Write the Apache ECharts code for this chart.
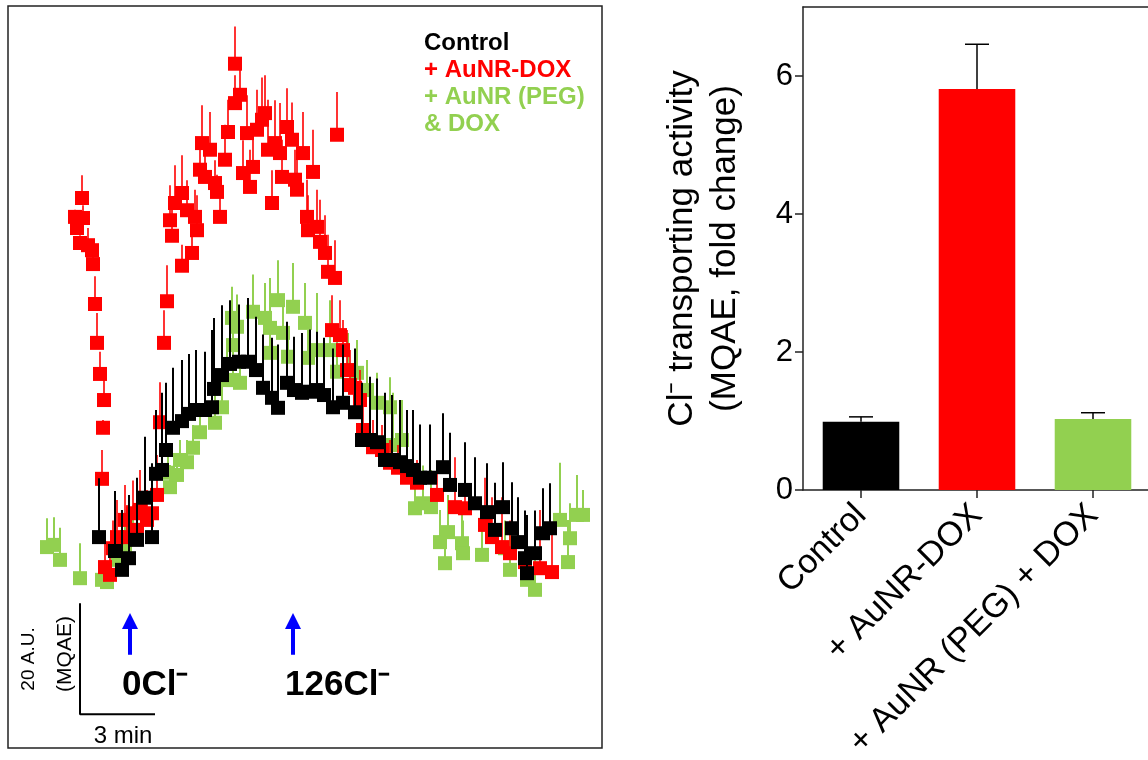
<!DOCTYPE html>
<html><head><meta charset="utf-8">
<script src="https://cdn.jsdelivr.net/npm/echarts@6/dist/echarts.min.js"></script>
<style>html,body{margin:0;padding:0;background:#fff}#c{width:1148px;height:760px}</style>
</head><body><div id="c"></div>
<script>
// Left panel: MQAE trace, [time (min), fluorescence (A.U.), upper error (A.U.)]
const controlData = [
[3.64,38.0,10.6],[4.28,35.5,10.8],[4.56,32.1,10.8],[4.84,34.2,11.4],[5.16,37.5,11.2],[5.48,45.1,11.0],
[5.76,38.0,13.3],[5.92,49.4,11.5],[6.16,50.1,13.9],[6.32,53.7,12.1],[6.60,57.7,10.8],[6.96,58.9,11.0],
[7.24,60.2,10.8],[7.52,60.9,10.8],[7.88,60.9,10.5],[8.16,61.4,13.9],[8.24,64.7,12.8],[8.56,67.2,12.6],
[8.88,69.2,11.5],[9.24,69.6,10.3],[9.60,69.6,11.5],[9.92,68.1,9.6],[10.20,64.9,9.6],[10.56,63.1,10.8],
[10.80,61.3,11.4],[11.16,65.8,11.0],[11.44,64.5,9.6],[11.76,64.0,10.8],[12.08,64.2,11.2],[12.36,64.5,10.5],
[12.64,63.6,10.3],[13.00,61.4,10.6],[13.40,62.2,10.5],[13.88,60.5,11.5],[14.16,55.5,10.3],[14.48,55.5,11.4],
[14.76,55.1,11.5],[15.08,51.9,12.1],[15.36,51.9,11.7],[15.68,51.5,11.2],[15.96,50.8,10.1],[16.20,50.1,10.8],
[16.48,48.7,9.6],[16.88,48.7,9.6],[17.40,50.6,9.7],[17.68,47.4,9.4],[18.28,46.5,8.6],[18.68,44.1,8.3],
[19.16,42.5,8.8],[19.48,39.3,8.5],[19.80,43.4,8.1],[20.16,39.6,8.3],[20.40,37.1,8.1],[20.68,34.2,8.6],
[20.76,31.5,10.5],[21.08,35.1,7.7],[21.40,38.7,8.1],[21.68,39.6,8.1]
];
const aunrDoxData = [
[2.68,95.7,1.3],[2.76,93.7,1.4],[2.96,99.1,4.1],[3.00,95.5,2.3],[2.88,91.0,1.4],[3.20,90.6,3.1],
[3.36,89.7,1.8],[3.40,87.2,1.6],[3.48,80.0,5.0],[3.56,73.0,5.4],[3.68,67.4,4.0],[3.84,62.7,3.6],
[3.80,57.7,1.4],[3.76,48.5,5.2],
[3.88,32.6,4.9],[4.08,31.2,3.6],[4.20,36.0,5.0],[4.36,38.0,6.7],[4.68,41.1,6.3],[4.76,38.0,5.8],
[5.00,42.3,5.9],[5.16,39.3,6.3],[5.28,42.9,7.2],[5.56,41.1,5.4],[5.76,42.3,7.7],[5.96,45.6,7.2],
[6.08,58.7,7.2],[6.24,73.0,5.9],[6.36,80.5,6.5],[6.48,95.1,6.3],[6.56,92.3,6.5],[6.68,98.2,6.8],
[6.96,86.9,3.8],[6.96,100.0,6.8],[7.16,96.9,5.4],[7.36,89.2,5.0],[7.48,95.7,4.9],[7.56,93.3,6.3],
[7.76,109.0,6.8],[8.08,107.8,6.8],[7.68,104.2,5.0],[7.88,102.9,4.9],[8.28,101.8,4.1],[8.36,100.2,3.1],
[8.48,95.7,6.7],[8.68,106.0,6.3],[8.80,111.0,5.8],[9.08,116.2,5.0],[9.28,117.7,6.3],[9.08,123.3,6.7],
[9.40,103.6,5.9],[9.56,110.8,6.8],[9.68,101.1,6.7],[9.80,104.7,7.6],[9.96,111.4,7.2],[10.16,113.2,7.6],
[10.28,114.4,6.8],[10.40,107.8,9.0],[10.56,98.2,5.9],[10.68,109.0,7.7],[10.88,107.2,9.0],[10.96,102.9,6.7],
[11.16,111.9,7.0],[11.36,109.6,6.7],[11.48,102.4,5.4],[11.56,100.6,5.4],[11.80,107.2,7.4],[11.96,95.7,6.7],
[12.20,103.8,7.6],[12.00,93.3,6.3],[12.36,93.9,6.7],[12.48,91.2,7.6],[12.68,89.2,6.8],[12.80,85.8,6.7],
[13.08,84.7,6.8],[13.16,110.5,7.7],[12.96,75.3,6.3],[13.28,74.4,6.3],[13.40,71.7,5.4],[13.56,68.1,7.2],
[13.68,65.4,6.3],[13.88,64.9,5.0],[14.08,62.7,5.4],[14.20,57.3,5.4],[14.60,54.2,4.9],[14.96,53.7,4.5],
[15.28,51.4,4.1],[15.60,50.5,4.1],[15.96,48.7,4.1],[16.36,47.8,4.1],[17.16,45.6,5.4],[17.88,43.4,9.0],
[18.28,43.2,6.8],[19.08,40.2,8.5],[19.36,38.0,7.2],[19.76,36.2,9.0],[20.08,35.1,5.9],[20.68,33.5,9.0],
[21.28,32.4,10.5],[21.76,31.7,7.6]
];
const pegDoxData = [
[1.56,36.2,5.2],[1.84,36.6,5.0],[2.08,33.9,5.8],[2.88,30.6,6.3],[3.76,30.3,2.7],[3.96,29.9,2.2],
[4.40,33.9,3.6],[4.68,36.6,4.5],[5.00,39.3,4.5],[6.40,49.6,3.2],[6.48,47.0,4.0],[6.76,49.2,3.6],
[6.88,51.9,3.6],[7.16,51.5,4.0],[7.40,54.1,4.1],[7.68,56.9,4.9],[8.28,58.6,5.0],[8.56,61.4,4.9],
[8.76,66.3,7.2],[9.00,66.3,5.4],[9.28,65.8,5.0],[8.96,77.5,5.6],[9.16,75.9,5.8],[9.00,72.6,5.4],
[9.80,78.6,6.7],[10.28,77.5,6.3],[10.48,75.7,9.0],[10.48,71.2,5.9],[10.80,80.7,7.2],[11.00,74.8,5.9],
[11.20,70.5,4.9],[11.40,79.5,7.9],[11.88,76.6,7.2],[12.00,70.3,5.0],[12.36,71.7,10.3],[12.88,71.7,9.0],
[13.16,67.8,6.3],[13.60,68.1,6.7],[13.96,67.6,5.9],[14.36,64.5,5.4],[14.76,62.2,5.4],[15.28,61.4,5.4],
[15.40,54.6,9.4],[15.76,55.5,7.2],[16.28,43.2,6.8],[16.60,44.1,6.8],[16.92,43.4,6.7],[17.28,37.1,5.8],
[17.48,33.3,5.9],[17.60,38.9,6.7],[18.16,36.9,5.9],[18.20,35.1,5.9],[18.96,34.8,6.3],[19.88,36.0,5.0],
[20.08,32.1,6.3],[20.76,30.3,6.3],[21.08,28.5,6.3],[22.08,41.1,10.3],[22.40,33.5,7.6],[22.48,37.8,6.3],
[22.76,42.0,7.2],[23.00,42.0,4.5]
];
// Right panel: bar chart
const barCategories = ['Control', '+ AuNR-DOX', '+ AuNR (PEG) + DOX'];
const barValues = [0.99, 5.81, 1.03];
const barErrors = [0.07, 0.65, 0.09];
const barColors = ['#000000', '#ff0000', '#92d050'];
const yTickValues = [0, 2, 4, 6];
// Annotations (data coordinates of the left panel)
const scaleBar = [[2.88, 26.1], [2.88, 6.1], [5.88, 6.1]]; // 20 A.U. x 3 min
const arrowTimes = [4.88, 11.4];
const arrowFrom = 16.8, arrowTo = 22.9;

const FONT = '"Liberation Sans", Arial, Helvetica, sans-serif';
const chart = echarts.init(document.getElementById('c'), null, {renderer: 'canvas'});

function errScatter(color, lw) {
  return function (params, api) {
    const t = api.value(0), v = api.value(1), e = api.value(2);
    const p = api.coord([t, v]);
    const q = api.coord([t, v + e]);
    return {type: 'group', children: [
      {type: 'line', shape: {x1: p[0], y1: p[1], x2: q[0], y2: q[1]}, style: {stroke: color, lineWidth: lw}},
      {type: 'rect', shape: {x: p[0] - 7, y: p[1] - 7, width: 14, height: 14}, style: {fill: color}}
    ]};
  };
}

const axisLineStyle = {color: '#222', width: 1.5};
const option = {
  animation: false,
  backgroundColor: '#ffffff',
  grid: [
    {left: 8, top: 6, width: 594, height: 742, show: true, borderColor: '#222', borderWidth: 1.5,
      backgroundColor: 'transparent', outerBoundsMode: 'none', containLabel: false},
    {left: 803, top: 7, width: 348, height: 483, show: false,
      outerBoundsMode: 'none', containLabel: false}
  ],
  xAxis: [
    {gridIndex: 0, type: 'value', min: 0, max: 23.76, show: false},
    {gridIndex: 1, type: 'category', data: barCategories, position: 'bottom',
      axisLine: {show: true, lineStyle: axisLineStyle},
      axisTick: {show: true, alignWithLabel: true, length: 8, lineStyle: axisLineStyle},
      axisLabel: {rotate: 45, interval: 0, fontSize: 34, color: '#000', fontFamily: FONT, margin: 20}
    },
    {gridIndex: 1, type: 'category', data: barCategories, position: 'top',
      axisLine: {show: true, lineStyle: axisLineStyle},
      axisTick: {show: false}, axisLabel: {show: false}, splitLine: {show: false}
    }
  ],
  yAxis: [
    {gridIndex: 0, type: 'value', min: 0, max: 133.7, show: false},
    {gridIndex: 1, type: 'value', min: 0, max: 7,
      axisLine: {show: true, lineStyle: axisLineStyle},
      axisTick: {show: true, length: 8, customValues: yTickValues, lineStyle: axisLineStyle},
      axisLabel: {customValues: yTickValues, fontSize: 31, color: '#000', fontFamily: FONT, margin: 10},
      splitLine: {show: false},
      name: 'Cl\u207B transporting activity\n(MQAE, fold change)',
      nameLocation: 'middle', nameRotate: 90, nameGap: 56,
      nameTextStyle: {fontSize: 35, color: '#000', fontFamily: FONT, lineHeight: 43, align: 'center'}
    }
  ],
  legend: {
    show: true, orient: 'vertical', left: 414, top: 25, itemWidth: 0, itemHeight: 0, itemGap: 0,
    selectedMode: false,
    textStyle: {fontSize: 24, fontWeight: 'bold', fontFamily: FONT, lineHeight: 27},
    data: [
      {name: 'Control', textStyle: {color: '#000000'}},
      {name: '+ AuNR-DOX', textStyle: {color: '#ff0000'}},
      {name: '+ AuNR (PEG)\n& DOX', textStyle: {color: '#92d050'}}
    ]
  },
  series: [
    {name: '+ AuNR (PEG)\n& DOX', type: 'custom', xAxisIndex: 0, yAxisIndex: 0, data: pegDoxData,
      encode: {x: 0, y: 1}, renderItem: errScatter('#92d050', 2), clip: false, z: 2},
    {name: '+ AuNR-DOX', type: 'custom', xAxisIndex: 0, yAxisIndex: 0, data: aunrDoxData,
      encode: {x: 0, y: 1}, renderItem: errScatter('#ff0000', 1.6), clip: false, z: 3},
    {name: 'Control', type: 'custom', xAxisIndex: 0, yAxisIndex: 0, data: controlData,
      encode: {x: 0, y: 1}, renderItem: errScatter('#000000', 2), clip: false, z: 4},
    {name: 'scale', type: 'line', xAxisIndex: 0, yAxisIndex: 0, data: scaleBar, showSymbol: false,
      symbol: 'none', lineStyle: {color: '#000', width: 2}, silent: true, z: 5,
      markLine: {
        silent: true, symbol: ['none', 'triangle'], symbolSize: 16,
        label: {show: false},
        lineStyle: {color: '#0000ff', width: 4, type: 'solid'},
        data: arrowTimes.map(t => [{coord: [t, arrowFrom]}, {coord: [t, arrowTo]}])
      }
    },
    {name: 'bars', type: 'bar', xAxisIndex: 1, yAxisIndex: 1, barWidth: '66%',
      data: barValues.map((v, i) => ({value: v, itemStyle: {color: barColors[i]}})), z: 2},
    {name: 'barErr', type: 'custom', xAxisIndex: 1, yAxisIndex: 1,
      data: barValues.map((v, i) => [i, v, barErrors[i]]),
      encode: {x: 0, y: 1}, z: 3,
      renderItem: function (params, api) {
        const i = api.value(0), v = api.value(1), e = api.value(2);
        const p = api.coord([i, v]); const q = api.coord([i, v + e]);
        return {type: 'group', children: [
          {type: 'line', shape: {x1: p[0], y1: p[1], x2: q[0], y2: q[1]}, style: {stroke: '#000', lineWidth: 1.5}},
          {type: 'line', shape: {x1: q[0] - 12, y1: q[1], x2: q[0] + 12, y2: q[1]}, style: {stroke: '#000', lineWidth: 1.5}}
        ]};
      }
    }
  ],
  graphic: [
    {type: 'text', x: 122, y: 685, style: {text: '0Cl\u207B', fontSize: 35, fontWeight: 'bold', fontFamily: FONT, fill: '#000', verticalAlign: 'middle', align: 'left'}},
    {type: 'text', x: 285, y: 685, style: {text: '126Cl\u207B', fontSize: 35, fontWeight: 'bold', fontFamily: FONT, fill: '#000', verticalAlign: 'middle', align: 'left'}},
    {type: 'text', x: 123, y: 736, style: {text: '3 min', fontSize: 24, fontFamily: FONT, fill: '#000', verticalAlign: 'middle', align: 'center'}},
    {type: 'text', x: 29, y: 659, rotation: Math.PI / 2, style: {text: '20 A.U.', fontSize: 19, fontFamily: FONT, fill: '#000', verticalAlign: 'middle', align: 'center'}},
    {type: 'text', x: 65, y: 654, rotation: Math.PI / 2, style: {text: '(MQAE)', fontSize: 21, fontFamily: FONT, fill: '#000', verticalAlign: 'middle', align: 'center'}}
  ]
};
chart.setOption(option);
</script>
</body></html>
